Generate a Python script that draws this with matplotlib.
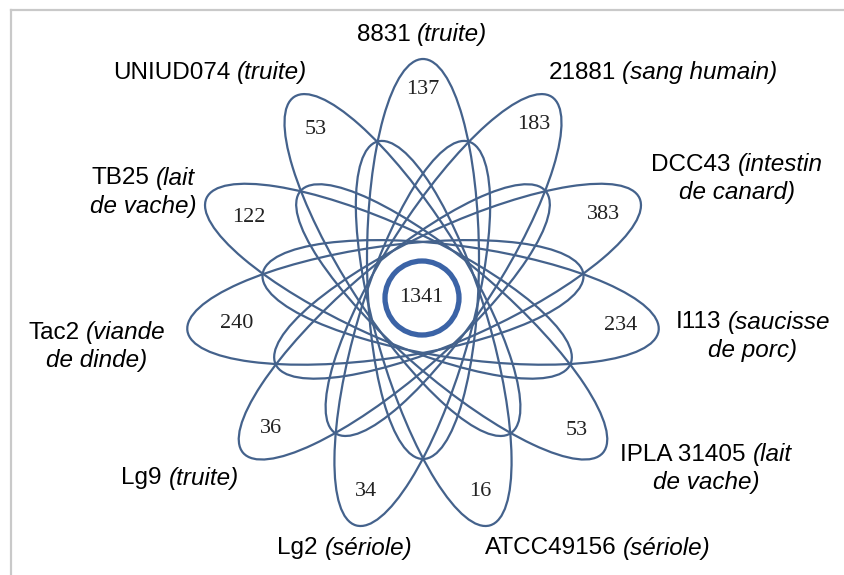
import numpy as np
import matplotlib
matplotlib.use('Agg')
import matplotlib.pyplot as plt
from matplotlib.patches import Ellipse, Circle

# souches, origine et nombre de genes specifiques
strains = ['8831', '21881', 'DCC43', 'I113', 'IPLA 31405', 'ATCC49156',
           'Lg2', 'Lg9', 'Tac2', 'TB25', 'UNIUD074']
sources = ['(truite)', '(sang humain)', '(intestin\nde canard)', '(saucisse\nde porc)',
           '(lait\nde vache)', '(sériole)', '(sériole)', '(truite)',
           '(viande\nde dinde)', '(lait\nde vache)', '(truite)']
unique_genes = [137, 183, 383, 234, 53, 16, 34, 36, 240, 122, 53]
core_genes = 1341

W, H = 844, 575
x0, y0 = 11, 10
cx, cy = 423, 297          # centre de la fleur (pixels)
d_ell, a_ell, b_ell = 38, 200, 56
line_col = '#44628c'
# distance centre -> nombre, par petale
num_r = [208, 205, 198, 200, 204, 203, 203, 201, 188, 192, 199]

# position des etiquettes (centre de chaque bloc)
label_pos = [(422, 35), (663, 73), (737, 165), (753, 322), (706, 455),
             (598, 548), (345, 548), (180, 478), (97, 333), (143, 178), (210, 73)]

fig = plt.figure(figsize=(W / 100, H / 100), dpi=100)
ax = fig.add_axes([x0 / W, 0, 1 - x0 / W, 1 - y0 / H])
ax.set_xlim(x0, W)
ax.set_ylim(H, y0)
ax.set_xticks([])
ax.set_yticks([])
for s in ['right', 'bottom']:
    ax.spines[s].set_visible(False)
for s in ['top', 'left']:
    ax.spines[s].set_color('#c9c9c9')
    ax.spines[s].set_linewidth(1.6)

n = len(strains)
angles = 90 - 360.0 / n * np.arange(n)

for k in range(n):
    t = np.deg2rad(angles[k])
    ex = cx + d_ell * np.cos(t)
    ey = cy - d_ell * np.sin(t)
    ax.add_patch(Ellipse((ex, ey), 2 * a_ell, 2 * b_ell, angle=-angles[k],
                         fill=False, ec=line_col, lw=1.6))
    ax.text(cx + num_r[k] * np.cos(t), cy - num_r[k] * np.sin(t), str(unique_genes[k]),
            ha='center', va='center', fontsize=16, family='Liberation Serif',
            color='#222222')

ax.add_patch(Circle((cx - 1, cy + 1), 37, fill=False, ec='#3b63a6', lw=3.8))
ax.text(cx - 2, cy + 1, str(core_genes), ha='center', va='center', fontsize=16,
        family='Liberation Serif', color='#222222')

renderer = fig.canvas.get_renderer()
fs = 17.5
space = fs * 100 / 72 * 0.278
gap = 28

for k in range(n):
    x, y = label_pos[k]
    src = sources[k].split('\n')
    lines = [(strains[k], src[0])] + [('', s) for s in src[1:]]
    for i, (reg, ita) in enumerate(lines):
        yy = y + i * gap
        t1 = ax.text(0, yy, reg, fontsize=fs, family='Liberation Sans',
                     ha='left', va='center', color='black')
        t2 = ax.text(0, yy, ita, fontsize=fs, family='Liberation Sans',
                     style='italic', ha='left', va='center', color='black')
        w1 = t1.get_window_extent(renderer).width if reg else 0
        w2 = t2.get_window_extent(renderer).width
        total = w1 + (space if reg else 0) + w2
        start = x - total / 2
        t1.set_x(start)
        t2.set_x(start + total - w2)

fig.savefig('out.png', dpi=100, facecolor='white')
